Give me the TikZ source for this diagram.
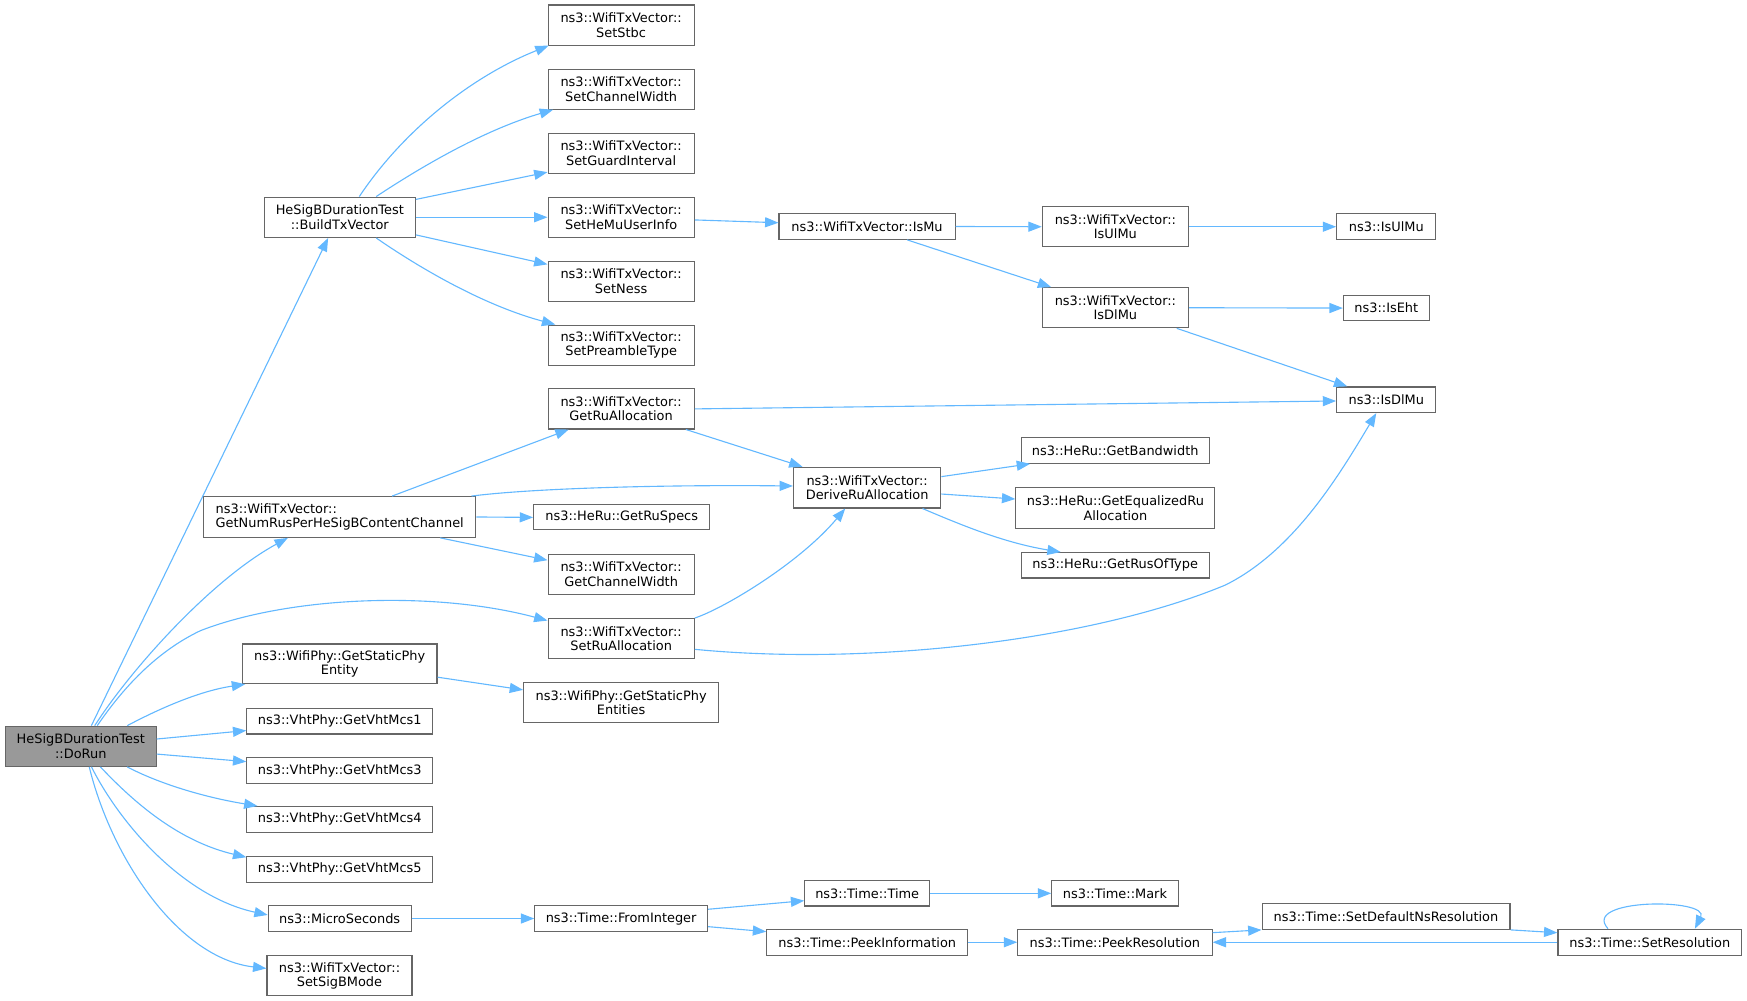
\documentclass[tikz,border=0pt]{standalone}
\usepackage{fontspec}
\setmainfont{DejaVu Sans}
\usetikzlibrary{arrows.meta}
\definecolor{edgeblue}{HTML}{63B8FF}
\definecolor{boxgray}{HTML}{666666}
\definecolor{rootgray}{HTML}{999999}
\tikzset{
  fn/.style={draw=boxgray, line width=1pt, fill=white, inner sep=0pt, align=center,
    font=\fontsize{11.6}{13}\selectfont, text=black},
  tv/.style={fn, minimum width=131.2pt, minimum height=36pt},
  one/.style={fn, minimum height=23pt},
  calledge/.style={draw=edgeblue, line width=1pt, -{Triangle[length=12pt,width=9pt]}},
}
\begin{document}
\begin{tikzpicture}[x=1pt,y=-1pt]
\useasboundingbox (0,0) rectangle (1568,898.4);
% nodes
\node[fn, fill=rootgray, minimum width=135.2pt, minimum height=36pt] (dorun) at (72.5,669.8) {HeSigBDurationTest\\::DoRun};
\node[fn, minimum width=135.4pt, minimum height=36.2pt] (build) at (305,195) {HeSigBDurationTest\\::BuildTxVector};
\node[tv] (stbc) at (557.5,22.5) {ns3::WifiTxVector::\\SetStbc};
\node[tv] (chw) at (557.5,80) {ns3::WifiTxVector::\\SetChannelWidth};
\node[tv] (gi) at (557.5,137.6) {ns3::WifiTxVector::\\SetGuardInterval};
\node[tv] (hemu) at (557.5,195) {ns3::WifiTxVector::\\SetHeMuUserInfo};
\node[tv] (ness) at (557.5,252.5) {ns3::WifiTxVector::\\SetNess};
\node[tv] (pre) at (557.5,309.8) {ns3::WifiTxVector::\\SetPreambleType};
\node[tv] (getru) at (557.5,367) {ns3::WifiTxVector::\\GetRuAllocation};
\node[fn, align=left, minimum width=244.4pt, minimum height=36.5pt] (gnr) at (304.9,464) {ns3::WifiTxVector::\\GetNumRusPerHeSigBContentChannel};
\node[one, minimum width=158pt, minimum height=22.4pt] (getruspecs) at (558,464.4) {ns3::HeRu::GetRuSpecs};
\node[tv] (getchw) at (557.5,515.5) {ns3::WifiTxVector::\\GetChannelWidth};
\node[tv] (setru) at (557.5,573.2) {ns3::WifiTxVector::\\SetRuAllocation};
\node[fn, minimum width=174.7pt, minimum height=35.6pt] (gspe) at (304.9,595.8) {ns3::WifiPhy::GetStaticPhy\\Entity};
\node[fn, minimum width=175pt, minimum height=35.7pt] (gspes) at (557.5,630.5) {ns3::WifiPhy::GetStaticPhy\\Entities};
\node[one, minimum width=166.6pt] (vht1) at (304.9,647.3) {ns3::VhtPhy::GetVhtMcs1};
\node[one, minimum width=166.6pt] (vht3) at (304.9,691.6) {ns3::VhtPhy::GetVhtMcs3};
\node[one, minimum width=166.6pt] (vht4) at (304.9,735.4) {ns3::VhtPhy::GetVhtMcs4};
\node[one, minimum width=166.6pt] (vht5) at (304.9,780.2) {ns3::VhtPhy::GetVhtMcs5};
\node[one, minimum width=128.2pt] (micro) at (304.9,824.4) {ns3::MicroSeconds};
\node[fn, minimum width=130.2pt, minimum height=36.3pt] (sigb) at (304.7,875.7) {ns3::WifiTxVector::\\SetSigBMode};
\node[one, minimum width=158pt] (ismu) at (778.2,203.3) {ns3::WifiTxVector::IsMu};
\node[fn, minimum width=132.2pt, minimum height=36.5pt] (derive) at (778.3,437.7) {ns3::WifiTxVector::\\DeriveRuAllocation};
\node[one, minimum width=155pt] (fromint) at (557.5,824.4) {ns3::Time::FromInteger};
\node[tv] (txisul) at (1001.1,203.5) {ns3::WifiTxVector::\\IsUlMu};
\node[tv] (txisdl) at (1001.1,276.2) {ns3::WifiTxVector::\\IsDlMu};
\node[one, minimum width=168.7pt] (bw) at (1000.9,404.3) {ns3::HeRu::GetBandwidth};
\node[fn, minimum width=178.6pt, minimum height=36.5pt] (eq) at (1001.1,455.9) {ns3::HeRu::GetEqualizedRu\\Allocation};
\node[one, minimum width=168.7pt, minimum height=22.8pt] (rusoft) at (1000.9,507.4) {ns3::HeRu::GetRusOfType};
\node[one, minimum width=112pt, minimum height=22.7pt] (time) at (778.35,801.8) {ns3::Time::Time};
\node[one, minimum width=180.4pt, minimum height=23.3pt] (peekinfo) at (778.4,845.7) {ns3::Time::PeekInformation};
\node[one, minimum width=113.3pt, minimum height=22.7pt] (mark) at (1000.7,801.8) {ns3::Time::Mark};
\node[one, minimum width=174.4pt, minimum height=23.3pt] (peekres) at (1000.7,845.7) {ns3::Time::PeekResolution};
\node[one, minimum width=222.5pt, minimum height=22.8pt] (setdef) at (1244,822.7) {ns3::Time::SetDefaultNsResolution};
\node[one, minimum width=164.9pt, minimum height=23.3pt] (setres) at (1480.75,845.7) {ns3::Time::SetResolution};
\node[one, minimum width=89pt] (isul) at (1244.25,203.5) {ns3::IsUlMu};
\node[one, minimum width=77pt, minimum height=22.3pt] (iseht) at (1244.25,276.5) {ns3::IsEht};
\node[one, minimum width=89pt] (isdl) at (1244.25,358.8) {ns3::IsDlMu};
% edges from DoRun
\draw[calledge] ([xshift=9.5pt]dorun.north) -- ([xshift=-10.5pt]build.south);
\draw[calledge] ([xshift=12.5pt]dorun.north) .. controls (118,600) and (190,520) .. ([xshift=-46.5pt]gnr.south);
\draw[calledge] ([xshift=14.8pt]dorun.north) .. controls (110,618) and (140,585) .. (180,566) .. controls (260,535) and (390,530) .. ([yshift=16.2pt]setru.west);
\draw[calledge] ([xshift=41.7pt]dorun.north) .. controls (145,635) and (180,620) .. ([xshift=3pt]gspe.south west);
\draw[calledge] ([yshift=6.5pt]dorun.east) -- ([yshift=-8.4pt]vht1.west);
\draw[calledge] ([yshift=-7pt]dorun.east) -- ([yshift=8pt]vht3.west);
\draw[calledge] ([xshift=41.7pt]dorun.south) .. controls (140,702) and (180,715) .. ([xshift=10pt]vht4.north west);
\draw[calledge] ([xshift=17.6pt]dorun.south) .. controls (120,720) and (160,755) .. ([yshift=10.8pt]vht5.west);
\draw[calledge] ([xshift=9.6pt]dorun.south) .. controls (108,740) and (165,805) .. ([yshift=3.2pt]micro.west);
\draw[calledge] ([xshift=7.6pt]dorun.south) .. controls (100,770) and (160,860) .. ([yshift=6.5pt]sigb.west);
% edges from BuildTxVector
\draw[calledge] ([xshift=17.5pt]build.north) .. controls (360,120) and (420,70) .. ([xshift=1pt]stbc.south west);
\draw[calledge] ([xshift=32.7pt]build.north) .. controls (370,155) and (430,118) .. ([xshift=5pt]chw.south west);
\draw[calledge] ([yshift=-2.6pt]build.north east) -- ([yshift=1.6pt]gi.south west);
\draw[calledge] (build.east) -- (hemu.west);
\draw[calledge] ([yshift=2.8pt]build.south east) -- ([yshift=-3.3pt]ness.north west);
\draw[calledge] ([xshift=32.7pt]build.south) .. controls (370,236) and (430,273) .. ([xshift=7pt]pre.north west);
% IsMu chain
\draw[calledge] ([yshift=-2.4pt]hemu.east) -- ([yshift=3.4pt]ismu.west);
\draw[calledge] (ismu.east) -- (txisul.west);
\draw[calledge] ([xshift=36pt]ismu.south) -- ([xshift=8.5pt]txisdl.north west);
\draw[calledge] (txisul.east) -- (isul.west);
\draw[calledge] (txisdl.east) -- (iseht.west);
\draw[calledge] ([xshift=-11pt]txisdl.south east) -- ([xshift=10pt]isdl.north west);
% RU allocation
\draw[calledge] (getru.east) -- ([yshift=-1.1pt]isdl.west);
\draw[calledge] ([xshift=-8pt]getru.south east) -- ([xshift=8.6pt]derive.north west);
\draw[calledge] ([xshift=47pt]gnr.north) -- ([xshift=19pt]getru.south west);
\draw[calledge] ([xshift=-4.4pt]gnr.north east) .. controls (480,438) and (600,435) .. ([yshift=1.5pt]derive.west);
\draw[calledge] (gnr.east) -- (getruspecs.west);
\draw[calledge] ([xshift=-32.5pt]gnr.south east) -- ([yshift=-5.8pt]getchw.north west);
\draw[calledge] (setru.north east) .. controls (650,546) and (718,505) .. ([xshift=-19.7pt]derive.south);
\draw[calledge] ([yshift=-9.6pt]setru.east) .. controls (780,598) and (980,575) .. (1100,525) .. controls (1160,495) and (1200,430) .. ([xshift=-9pt]isdl.south);
\draw[calledge] ([yshift=-12pt]gspe.east) -- ([yshift=11.3pt]gspes.west);
\draw[calledge] ([yshift=9.9pt]derive.east) -- ([xshift=8.5pt]bw.south west);
\draw[calledge] ([yshift=-5.7pt]derive.east) -- ([yshift=8pt]eq.west);
\draw[calledge] ([xshift=49.7pt]derive.south) .. controls (860,470) and (900,487) .. ([xshift=36pt]rusoft.north west);
% time chain
\draw[calledge] (micro.east) -- (fromint.west);
\draw[calledge] ([yshift=8.3pt]fromint.east) -- ([yshift=-6.6pt]time.west);
\draw[calledge] ([yshift=-7.3pt]fromint.east) -- ([yshift=9.5pt]peekinfo.west);
\draw[calledge] (time.east) -- (mark.west);
\draw[calledge] (peekinfo.east) -- (peekres.west);
\draw[calledge] ([yshift=8.6pt]peekres.east) -- (setdef.south west);
\draw[calledge] (setdef.south east) -- ([yshift=-3.6pt]setres.north west);
\draw[calledge] (setres.west) -- (peekres.east);
\draw[calledge] ([xshift=-37.5pt]setres.north) .. controls (1418,806) and (1535,806) .. ([xshift=40.5pt]setres.north);
\end{tikzpicture}
\end{document}
